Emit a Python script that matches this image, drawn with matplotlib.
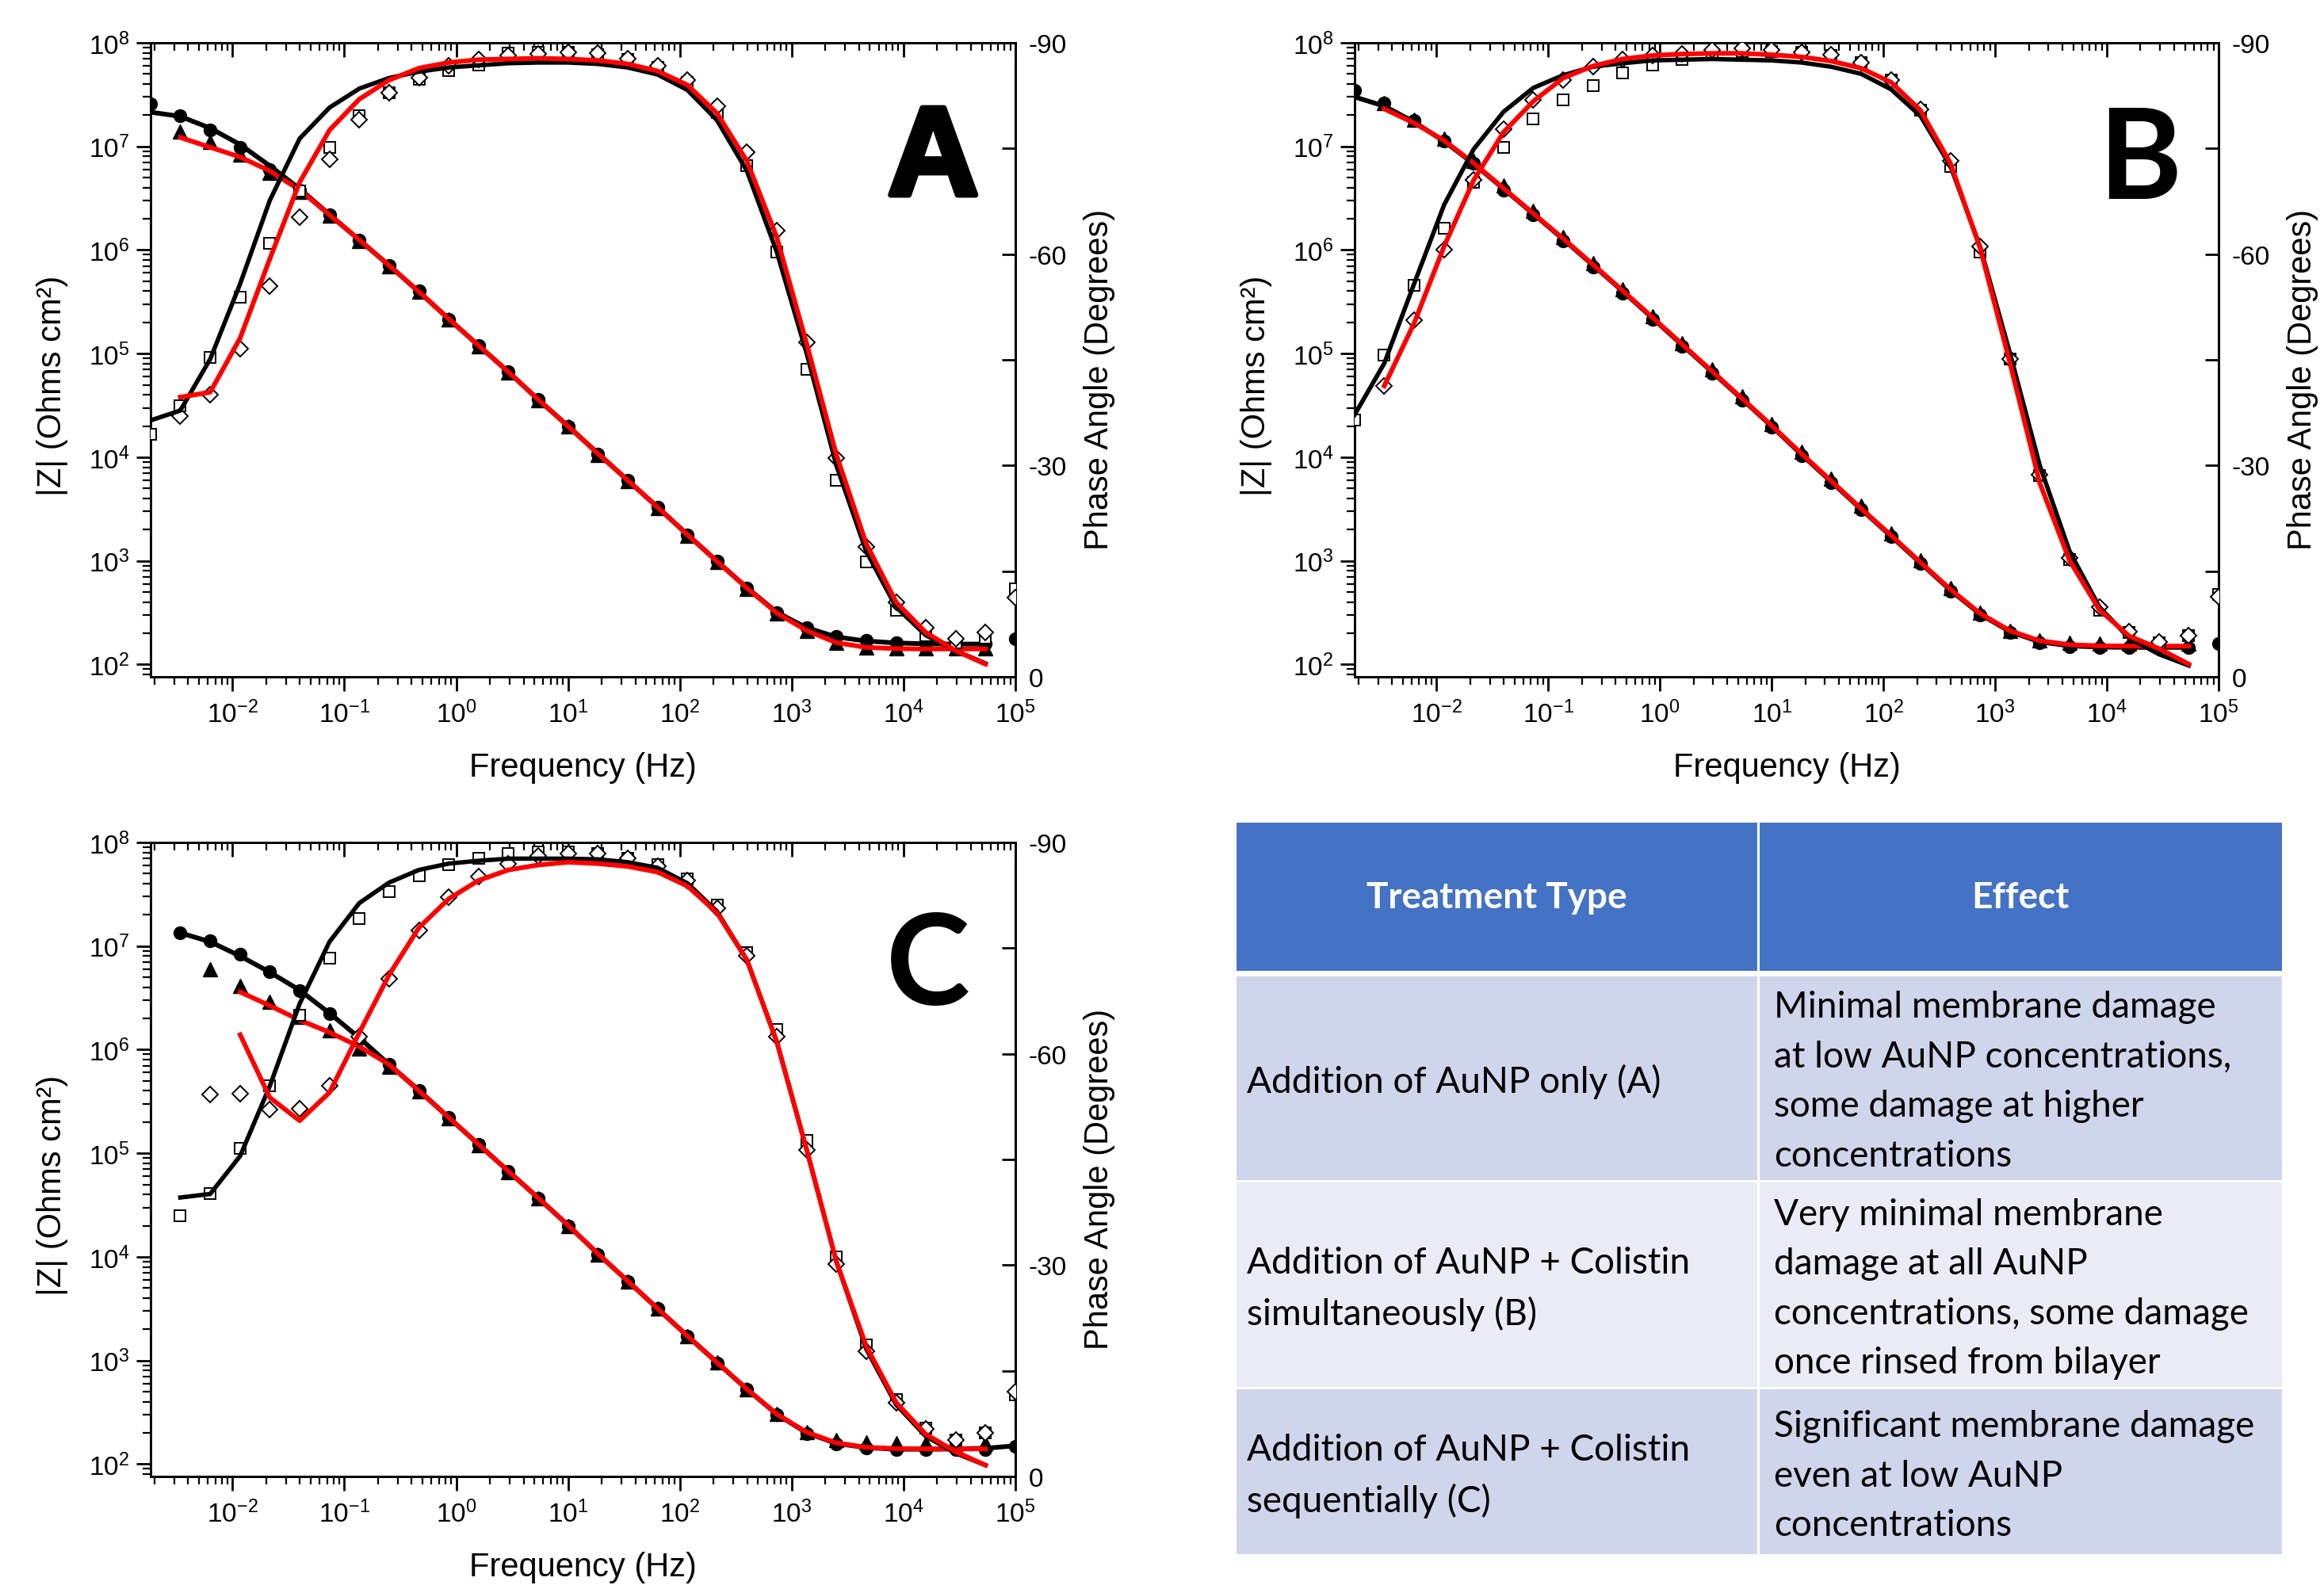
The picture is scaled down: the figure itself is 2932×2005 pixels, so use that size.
import numpy as np
import matplotlib
matplotlib.use('Agg')
import matplotlib.pyplot as plt
import matplotlib.patheffects as pe
from matplotlib.ticker import LogLocator, MultipleLocator, NullFormatter
from matplotlib.patches import Rectangle

plt.rcParams['font.family'] = ['Liberation Sans', 'DejaVu Sans']
plt.rcParams['mathtext.fontset'] = 'custom'
plt.rcParams['mathtext.rm'] = 'Liberation Sans'
plt.rcParams['mathtext.it'] = 'Liberation Sans:italic'
plt.rcParams['mathtext.bf'] = 'Liberation Sans:bold'
plt.rcParams['axes.unicode_minus'] = False

nan = np.nan

# measured frequencies (Hz), high -> low
freq = [1.0e5, 5.41e4, 2.93e4, 1.58e4, 8.58e3, 4.64e3, 2.51e3, 1.36e3, 736, 398,
        215, 117, 63.1, 34.1, 18.5, 10.0, 5.41, 2.93, 1.58, 0.858,
        0.464, 0.251, 0.136, 0.0736, 0.0398, 0.0215, 0.0117, 0.00631, 0.00341, 0.00185]

# ---- panel A ----
a_z_circ = [176, 158, 158, 160, 163, 170, 186, 225, 316, 545, 985, 1780, 3300, 6000, 10800,
            20000, 36000, 67000, 120000, 215000, 400000, 710000, 1250000, 2180000, 3750000,
            6000000, 9800000, 14400000, 19700000, 25600000]
a_z_tri = [nan, 143, 143, 143, 143, 146, 163, 210, 310, 535, 970, 1760, 3250, 5900, 10600,
           19700, 35500, 66000, 118000, 212000, 395000, 700000, 1230000, 2150000, 3650000,
           5600000, 8300000, 11000000, 13800000, nan]
a_fit_z_k = [nan, 157, 157, 158, 161, 168, 184, 226, 318, 550, 990, 1790, 3300, 6000, 10900,
             20000, 36000, 66500, 120000, 216000, 395000, 710000, 1250000, 2200000, 3900000,
             6500000, 10400000, 15000000, 19500000, 21400000]
a_fit_z_r = [nan, 141, 141, 141, 142, 146, 162, 212, 313, 545, 985, 1780, 3290, 5990, 10800,
             19900, 36000, 66500, 120000, 216000, 395000, 710000, 1250000, 2180000, 3800000,
             5800000, 7900000, 9800000, 12200000, nan]
a_ph_sq = [12.5, 5.5, 4.8, 5.9, 9.5, 16.3, 27.9, 43.7, 60.3, 72.6, 80.1, 84.4, 86.5, 87.6, 88.3,
           88.6, 88.7, 88.5, 86.9, 86.1, 84.8, 82.9, 79.7, 75.2, 69.0, 61.5, 53.9, 45.3, 38.5, 34.4]
a_ph_dia = [11.3, 6.3, 5.4, 7.0, 10.6, 18.5, 31.1, 47.5, 63.3, 74.5, 81.0, 84.7, 86.7, 87.8, 88.5,
            88.6, 88.4, 88.2, 87.6, 86.7, 85.1, 82.9, 79.1, 73.5, 65.3, 55.5, 46.6, 40.1, 37.0, nan]
a_fit_ph_k = [nan, 1.9, 3.7, 5.9, 9.9, 17.8, 30.0, 45.9, 60.3, 71.8, 79.0, 83.3, 85.5, 86.5, 87.0,
              87.2, 87.2, 87.1, 86.8, 86.5, 85.9, 85.0, 83.5, 80.8, 76.4, 67.6, 55.8, 45.1, 37.8, 36.4]
a_fit_ph_r = [nan, 1.8, 3.7, 6.3, 10.6, 18.9, 31.5, 47.3, 62.4, 73.2, 80.0, 84.0, 86.0, 87.0, 87.5,
              87.7, 87.8, 87.7, 87.6, 87.2, 86.4, 84.7, 82.0, 77.6, 70.2, 59.3, 48.1, 40.4, 39.7, nan]

# ---- panel B ----
b_z_circ = [160, 145, 145, 145, 145, 148, 161, 202, 300, 510, 935, 1700, 3100, 5700, 10400,
            19500, 35500, 64500, 117000, 212000, 385000, 690000, 1220000, 2170000, 3800000,
            6850000, 11300000, 17700000, 26300000, 35000000]
b_z_tri = [nan, 160, 160, 160, 160, 162, 172, 212, 318, 550, 1010, 1840, 3380, 6200, 11300,
           21000, 38500, 70000, 127000, 230000, 420000, 750000, 1340000, 2380000, 4200000,
           7200000, 11800000, 18000000, 26000000, nan]
b_fit_z_k = [nan, 146, 146, 146, 147, 151, 165, 207, 305, 520, 950, 1730, 3150, 5800, 10600,
             19900, 36500, 66500, 121000, 220000, 400000, 715000, 1270000, 2230000, 3900000,
             6800000, 11200000, 17200000, 24500000, 30000000]
b_fit_z_r = [nan, 150, 150, 150, 151, 155, 169, 211, 310, 530, 965, 1760, 3200, 5900, 10800,
             20200, 37000, 67500, 123000, 223000, 405000, 725000, 1290000, 2250000, 3950000,
             6900000, 11400000, 16800000, 23000000, nan]
b_ph_sq = [11.7, 5.9, 4.8, 6.3, 9.5, 16.7, 28.6, 45.1, 60.3, 72.5, 80.4, 84.7, 87.2, 88.2, 88.6,
           88.8, 88.8, 88.5, 87.6, 86.9, 85.7, 83.9, 81.9, 79.2, 75.1, 70.2, 63.7, 55.6, 45.7, 36.4]
b_ph_dia = [11.4, 5.9, 5.0, 6.4, 9.9, 16.9, 28.7, 45.1, 61.1, 73.2, 80.6, 84.7, 87.2, 88.3, 88.7,
            89.0, 89.2, 89.0, 88.4, 88.2, 87.6, 86.6, 84.7, 81.9, 77.7, 70.5, 60.6, 50.6, 41.3, nan]
b_fit_ph_k = [nan, 1.6, 3.2, 5.5, 9.9, 17.8, 30.0, 45.9, 61.0, 72.5, 79.6, 83.4, 85.6, 86.6, 87.2,
              87.5, 87.6, 87.7, 87.6, 87.5, 87.1, 86.6, 85.4, 83.6, 80.2, 74.9, 67.0, 55.8, 44.5, 37.2]
b_fit_ph_r = [nan, 1.8, 4.0, 5.8, 9.5, 16.5, 27.5, 44.5, 60.8, 72.9, 80.4, 84.4, 86.4, 87.4, 88.0,
              88.3, 88.5, 88.5, 88.4, 88.2, 87.7, 86.7, 85.0, 81.7, 77.3, 70.5, 61.1, 50.2, 41.3, nan]

# ---- panel C ----
c_z_circ = [148, 138, 138, 138, 138, 143, 156, 198, 300, 525, 950, 1700, 3150, 5800, 10600,
            20000, 37000, 67000, 122000, 220000, 405000, 715000, 1260000, 2210000, 3700000,
            5700000, 8300000, 11200000, 13400000, nan]
c_z_tri = [nan, 158, 158, 158, 158, 162, 170, 205, 305, 530, 955, 1710, 3150, 5800, 10600,
           20000, 36500, 66000, 120000, 217000, 395000, 690000, 1030000, 1540000, 2070000,
           2880000, 4100000, 6000000, nan, nan]
c_fit_z_k = [150, 142, 140, 139, 139, 144, 158, 200, 302, 528, 955, 1720, 3170, 5850, 10700,
             20200, 37000, 67000, 122000, 221000, 405000, 720000, 1300000, 2250000, 3750000,
             5600000, 8000000, 11000000, 13400000, nan]
c_fit_z_r = [nan, 140, 140, 140, 141, 145, 160, 203, 303, 528, 955, 1720, 3170, 5850, 10700,
             20200, 37000, 67000, 122000, 221000, 400000, 720000, 1070000, 1470000, 1930000,
             2660000, 3600000, nan, nan, nan]
c_ph_sq = [11.6, 6.2, 5.2, 6.9, 10.9, 18.7, 31.2, 47.7, 63.4, 74.4, 81.1, 84.8, 86.9, 87.8, 88.4,
           88.7, 88.7, 88.4, 87.7, 86.8, 85.3, 83.0, 79.2, 73.6, 65.5, 55.5, 46.6, 40.2, 37.0, nan]
c_ph_dia = [12.0, 6.2, 5.2, 6.7, 10.5, 17.8, 30.1, 46.4, 62.4, 73.9, 80.7, 84.6, 86.6, 87.8, 88.4,
            88.4, 88.1, 87.0, 85.2, 82.2, 77.5, 70.6, 62.4, 55.5, 52.2, 52.1, 54.3, 54.2, nan, nan]
c_fit_ph_k = [nan, 1.6, 3.3, 5.7, 10.2, 18.1, 30.5, 46.4, 61.7, 73.3, 80.2, 84.2, 86.4, 87.2, 87.6,
              87.7, 87.7, 87.7, 87.4, 87.0, 86.1, 84.3, 81.4, 75.9, 67.1, 55.4, 45.5, 40.1, 39.6, nan]
c_fit_ph_r = [nan, 1.6, 3.5, 6.0, 10.5, 18.5, 30.5, 46.4, 61.7, 73.3, 80.0, 83.8, 85.8, 86.6, 87.0,
              87.2, 86.8, 86.1, 84.6, 82.0, 77.9, 71.2, 63.0, 54.5, 50.5, 53.8, 62.7, nan, nan, nan]

# ---- table ----
table_header = ['Treatment Type', 'Effect']
treatments = ['Addition of AuNP only (A)',
              'Addition of AuNP + Colistin\nsimultaneously (B)',
              'Addition of AuNP + Colistin\nsequentially (C)']
effects = ['Minimal membrane damage\nat low AuNP concentrations,\nsome damage at higher\nconcentrations',
           'Very minimal membrane\ndamage at all AuNP\nconcentrations, some damage\nonce rinsed from bilayer',
           'Significant membrane damage\neven at low AuNP\nconcentrations']

W, H = 2932, 2006
fig = plt.figure(figsize=(W / 100, H / 100), dpi=100)


def px_axes(x0, y0, x1, y1):
    return fig.add_axes([x0 / W, 1 - y1 / H, (x1 - x0) / W, (y1 - y0) / H])


def panel(box, zc, zt, zfk, zfr, ps, pd, pfk, pfr, letter, lfam, lpos, stroke=False):
    ax = px_axes(*box)
    ax.set_xscale('log')
    ax.set_yscale('log')
    ax.plot(freq, zc, 'o', color='black', ms=11.5, zorder=3)
    ax.plot(freq, zt, '^', color='black', ms=12.5, zorder=3)
    ax.plot(freq, zfk, '-', color='black', lw=4.3, zorder=4)
    ax.plot(freq, zfr, '-', color='red', lw=4.3, zorder=5)
    ax.set_xlim(0.00185, 1e5)
    ax.set_ylim(10 ** 1.88, 1e8)
    ax.xaxis.set_minor_locator(LogLocator(base=10, subs=np.arange(2, 10), numticks=100))
    ax.yaxis.set_minor_locator(LogLocator(base=10, subs=np.arange(2, 10), numticks=100))
    ax.xaxis.set_minor_formatter(NullFormatter())
    ax.yaxis.set_minor_formatter(NullFormatter())
    ax.tick_params(axis='both', which='major', length=13, width=2, labelsize=24)
    ax.tick_params(axis='both', which='minor', length=7, width=1.6)
    ax.tick_params(axis='x', which='both', direction='out', top=False, pad=8)
    ax.tick_params(axis='y', which='both', direction='out', right=False, pad=6)
    ax.set_xlabel('Frequency (Hz)', fontsize=30)
    ax.set_ylabel('|Z| (Ohms cm²)', fontsize=30)
    ax.xaxis.set_label_coords(0.5, -0.118)
    ax.yaxis.set_label_coords(-0.095, 0.46)

    ax2 = ax.twinx()
    ax2.plot(freq, -np.array(ps), 's', mfc='white', mec='black', ms=10, mew=1.4, zorder=3)
    ax2.plot(freq, -np.array(pd), 'D', mfc='white', mec='black', ms=10, mew=1.4, zorder=3)
    ax2.plot(freq, -np.array(pfk), '-', color='black', lw=4.0, zorder=4)
    ax2.plot(freq, -np.array(pfr), '-', color='red', lw=4.3, zorder=5)
    ax2.set_ylim(0, -90)
    ax2.yaxis.set_major_locator(MultipleLocator(30))
    ax2.yaxis.set_minor_locator(MultipleLocator(15))
    ax2.tick_params(axis='y', which='both', direction='in', length=12, width=2,
                    labelsize=24, pad=12, left=False)
    ax2.xaxis.set_visible(True)
    ax2.tick_params(axis='x', which='both', direction='in', top=True, bottom=False,
                    labeltop=False, labelbottom=False)
    ax2.tick_params(axis='x', which='major', length=13, width=2)
    ax2.tick_params(axis='x', which='minor', length=7, width=1.6)
    ax2.set_ylabel('Phase Angle (Degrees)', fontsize=30)
    ax2.yaxis.set_label_coords(1.079, 0.47)
    for a in (ax, ax2):
        for s in a.spines.values():
            s.set_linewidth(2)

    txt = ax.text(lpos[0], lpos[1], letter, transform=ax.transAxes, fontsize=115,
                  fontweight='bold', family=lfam, ha='center', va='baseline', zorder=10)
    if stroke:
        txt.set_path_effects([pe.withStroke(linewidth=5, foreground='black')])
    return ax


panel((190, 55, 1281, 855), a_z_circ, a_z_tri, a_fit_z_k, a_fit_z_r,
      a_ph_sq, a_ph_dia, a_fit_ph_k, a_fit_ph_r, 'A', 'Liberation Sans', (0.905, 0.76), stroke=True)
panel((1709, 55, 2799, 855), b_z_circ, b_z_tri, b_fit_z_k, b_fit_z_r,
      b_ph_sq, b_ph_dia, b_fit_ph_k, b_fit_ph_r, 'B', 'Lato', (0.909, 0.755))
panel((190, 1064, 1281, 1864), c_z_circ, c_z_tri, c_fit_z_k, c_fit_z_r,
      c_ph_sq, c_ph_dia, c_fit_ph_k, c_fit_ph_r, 'C', 'Lato', (0.899, 0.745))

# table drawn in pixel-like coordinates
tab = px_axes(1558, 1037, 2880, 1963)
tab.set_xlim(0, 1322)
tab.set_ylim(926, 0)
tab.axis('off')
col_x = [0, 660, 1322]
row_y = [0, 192, 454, 715, 926]
fills = ['#4472C4', '#CFD5EA', '#E9EBF5', '#CFD5EA']
for r in range(4):
    for c in range(2):
        tab.add_patch(Rectangle((col_x[c], row_y[r]), col_x[c + 1] - col_x[c],
                                row_y[r + 1] - row_y[r], facecolor=fills[r],
                                edgecolor='white', lw=2.2))
tab.plot([0, 1322], [row_y[1], row_y[1]], color='white', lw=5)

tfont = ['Lato', 'DejaVu Sans']
for c in range(2):
    tab.text((col_x[c] + col_x[c + 1]) / 2, row_y[1] / 2, table_header[c], ha='center',
             va='center', color='white', fontweight='bold', fontsize=33, family=tfont)
for r in range(3):
    yc = (row_y[r + 1] + row_y[r + 2]) / 2 + 5
    tab.text(15, yc, treatments[r], ha='left', va='center', fontsize=33,
             family=tfont, linespacing=1.6, color='black')
    tab.text(680, yc, effects[r], ha='left', va='center', fontsize=33,
             family=tfont, linespacing=1.6, color='black')

fig.savefig('out.png', dpi=100)
